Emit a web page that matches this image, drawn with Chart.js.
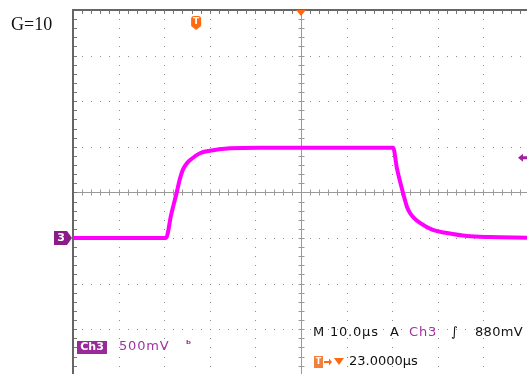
<!DOCTYPE html>
<html>
<head>
<meta charset="utf-8">
<script src="https://cdn.jsdelivr.net/npm/chart.js@4.4.1/dist/chart.umd.min.js"></script>
<style>
  html, body { margin: 0; padding: 0; background: #fff; }
  #wrap { width: 527px; height: 374px; }
</style>
</head>
<body>
<div id="wrap"><canvas id="scope" width="527" height="374"></canvas></div>
<script>
// Ch3 trace: time in µs (10 µs/div), volts (500 mV/div)
const timeUs = [0, 20.4, 21.5, 22.7, 23.4, 24.1, 24.9, 25.7, 27.85, 30, 34.4, 41, 50,
  70.2, 71.05, 72.4, 73.25, 73.9, 74.6, 76.1, 78.9, 82, 86.4, 91.4, 99.6];
const ch3Volts = [0, 0, 0.25, 0.49, 0.64, 0.75, 0.815, 0.855, 0.93, 0.957, 0.983, 0.99, 0.99,
  0.99, 0.76, 0.49, 0.34, 0.275, 0.23, 0.165, 0.088, 0.055, 0.022, 0.01, 0.004];

// screen settings
const gainLabel = "G=10";
const timePerDiv = 10;
const voltsPerDiv = 0.5;
const centerTime = 50;
const centerVolts = 0.5;
const groundVolts = 0;
const triggerTime = 27;
const triggerLevel = 0.88;

// readout texts
const chLabel = "Ch3";
const chScale = "500mV";
const timebase = "M 10.0µs";
const trigSource = "A";
const trigSlope = "∫";
const trigLevelText = "880mV";
const trigPosText = "23.0000µs";

const scopeGrid = {
  id: "scopeGrid",
  beforeDatasetsDraw(chart) {
    const { ctx, chartArea: a, scales: { x, y } } = chart;
    ctx.save();

    // dotted graticule lines, a dot every 1/5 div
    ctx.fillStyle = "#8c8c8c";
    for (let i = 1; i < 10; i++) {
      const t = i * timePerDiv;
      if (t === centerTime) continue;
      const px = Math.round(x.getPixelForValue(t));
      for (let k = 0; k <= 45; k++) {
        const py = Math.round(y.getPixelForValue(y.max - k * voltsPerDiv / 5));
        ctx.fillRect(px, py, 1, 1);
      }
    }
    for (let j = 1; j < 8; j++) {
      const v = y.max - j * voltsPerDiv;
      if (Math.abs(v - centerVolts) < 1e-6) continue;
      const py = Math.round(y.getPixelForValue(v));
      for (let k = 0; k <= 50; k++) {
        const px = Math.round(x.getPixelForValue(k * timePerDiv / 5));
        ctx.fillRect(px, py, 1, 1);
      }
    }

    // center crosshair with minor ticks
    const cx = Math.round(x.getPixelForValue(centerTime)) + 0.5;
    const cy = Math.round(y.getPixelForValue(centerVolts)) + 0.5;
    ctx.strokeStyle = "#9a9a9a";
    ctx.lineWidth = 1;
    ctx.beginPath();
    ctx.moveTo(a.left, cy); ctx.lineTo(a.right, cy);
    ctx.moveTo(cx, a.top); ctx.lineTo(cx, a.bottom);
    for (let k = 0; k <= 50; k++) {
      const px = Math.round(x.getPixelForValue(k * timePerDiv / 5)) + 0.5;
      ctx.moveTo(px, cy - 3); ctx.lineTo(px, cy + 3);
    }
    for (let k = 0; k <= 45; k++) {
      const py = Math.round(y.getPixelForValue(y.max - k * voltsPerDiv / 5)) + 0.5;
      ctx.moveTo(cx - 3, py); ctx.lineTo(cx + 3, py);
    }
    ctx.stroke();

    // frame (top and left edges are visible) with inward ticks
    ctx.strokeStyle = "#777";
    ctx.beginPath();
    for (let k = 1; k <= 50; k++) {
      const px = Math.round(x.getPixelForValue(k * timePerDiv / 5)) + 0.5;
      ctx.moveTo(px, a.top); ctx.lineTo(px, a.top + 4);
    }
    for (let k = 1; k <= 45; k++) {
      const py = Math.round(y.getPixelForValue(y.max - k * voltsPerDiv / 5)) + 0.5;
      ctx.moveTo(a.left, py); ctx.lineTo(a.left + 4, py);
    }
    ctx.stroke();
    ctx.lineWidth = 2;
    ctx.strokeStyle = "#666";
    ctx.beginPath();
    ctx.moveTo(a.left, a.bottom); ctx.lineTo(a.left, a.top); ctx.lineTo(a.right, a.top);
    ctx.stroke();
    ctx.restore();
  }
};

const scopeMarks = {
  id: "scopeMarks",
  afterDatasetsDraw(chart) {
    const { ctx, chartArea: a, scales: { x, y } } = chart;
    ctx.save();
    ctx.textBaseline = "middle";

    // gain label
    ctx.fillStyle = "#111";
    ctx.font = "18px 'Liberation Serif'";
    ctx.textAlign = "left";
    ctx.fillText(gainLabel, 11, 25);

    // horizontal position marker
    const hx = x.getPixelForValue(centerTime);
    ctx.fillStyle = "#ff6a10";
    ctx.beginPath();
    ctx.moveTo(hx - 5, a.top); ctx.lineTo(hx + 5, a.top); ctx.lineTo(hx, a.top + 6);
    ctx.fill();

    // trigger position badge
    const tx = x.getPixelForValue(triggerTime);
    ctx.beginPath();
    ctx.moveTo(tx - 5, 19); ctx.quadraticCurveTo(tx - 5, 16, tx - 2, 16);
    ctx.lineTo(tx + 2, 16); ctx.quadraticCurveTo(tx + 5, 16, tx + 5, 19);
    ctx.lineTo(tx + 5, 26); ctx.lineTo(tx, 30); ctx.lineTo(tx - 5, 26);
    ctx.closePath();
    ctx.fill();
    ctx.fillStyle = "#fff";
    ctx.font = "bold 9px 'DejaVu Sans'";
    ctx.textAlign = "center";
    ctx.fillText("T", tx, 22);

    // ground marker for Ch3
    const gy = y.getPixelForValue(groundVolts);
    ctx.fillStyle = "#8a1c8a";
    ctx.beginPath();
    ctx.moveTo(54, gy - 7); ctx.lineTo(67, gy - 7); ctx.lineTo(72, gy);
    ctx.lineTo(67, gy + 7); ctx.lineTo(54, gy + 7);
    ctx.closePath();
    ctx.fill();
    ctx.fillStyle = "#fff";
    ctx.font = "bold 11px 'DejaVu Sans'";
    ctx.fillText("3", 61, gy + 0.5);

    // trigger level marker
    const ly = y.getPixelForValue(triggerLevel);
    ctx.fillStyle = "#a020a0";
    ctx.beginPath();
    ctx.moveTo(518, ly); ctx.lineTo(523, ly - 4); ctx.lineTo(523, ly - 1.5);
    ctx.lineTo(527, ly - 1.5); ctx.lineTo(527, ly + 1.5); ctx.lineTo(523, ly + 1.5);
    ctx.lineTo(523, ly + 4);
    ctx.closePath();
    ctx.fill();

    // channel readout
    ctx.fillStyle = "#9a2a9a";
    ctx.fillRect(77, 341, 30, 13);
    ctx.fillStyle = "#fff";
    ctx.font = "bold 11px 'DejaVu Sans'";
    ctx.fillText(chLabel, 92, 347.5);
    ctx.textAlign = "left";
    ctx.fillStyle = "#a232a2";
    ctx.font = "13px 'DejaVu Sans'";
    ctx.letterSpacing = "0.8px";
    ctx.fillText(chScale, 119, 347);
    ctx.letterSpacing = "0px";
    ctx.font = "bold 11px 'DejaVu Sans'";
    ctx.fillText("ᵇ", 186, 345);

    // timebase / trigger readout
    ctx.font = "13px 'DejaVu Sans'";
    ctx.letterSpacing = "0.8px";
    ctx.fillStyle = "#111";
    ctx.fillText(timebase, 313, 333);
    ctx.fillText(trigSource, 390, 333);
    ctx.fillStyle = "#a232a2";
    ctx.fillText(chLabel, 409, 333);
    ctx.fillStyle = "#111";
    ctx.font = "italic 13px 'DejaVu Sans'";
    ctx.fillText(trigSlope, 451, 333);
    ctx.font = "13px 'DejaVu Sans'";
    ctx.letterSpacing = "0.3px";
    ctx.fillText(trigLevelText, 475, 333);
    ctx.letterSpacing = "0px";

    // trigger position readout
    ctx.fillStyle = "#f08040";
    ctx.fillRect(314, 356, 9, 12);
    ctx.fillStyle = "#fff";
    ctx.font = "bold 8px 'DejaVu Sans'";
    ctx.textAlign = "center";
    ctx.fillText("T", 318.5, 362);
    ctx.fillStyle = "#ff6a10";
    ctx.fillRect(324, 361, 5, 2);
    ctx.beginPath();
    ctx.moveTo(329, 358.5); ctx.lineTo(332, 362); ctx.lineTo(329, 365.5);
    ctx.fill();
    ctx.beginPath();
    ctx.moveTo(334, 358); ctx.lineTo(344, 358); ctx.lineTo(339, 365);
    ctx.fill();
    ctx.textAlign = "left";
    ctx.fillStyle = "#111";
    ctx.font = "13px 'DejaVu Sans'";
    ctx.fillText(trigPosText, 349, 362);
    ctx.restore();
  }
};

new Chart(document.getElementById("scope"), {
  type: "line",
  data: {
    datasets: [{
      label: chLabel,
      data: timeUs.map((t, i) => ({ x: t, y: ch3Volts[i] })),
      borderColor: "#ff00ff",
      borderWidth: 4,
      pointRadius: 0,
      cubicInterpolationMode: "monotone",
      borderJoinStyle: "round",
      fill: false
    }]
  },
  options: {
    responsive: false,
    animation: false,
    devicePixelRatio: 1,
    layout: { padding: { left: 73, top: 10, right: 0, bottom: 0 } },
    scales: {
      x: { type: "linear", display: false, min: 0, max: 99.56 },
      y: { type: "linear", display: false, min: -1.491, max: 2.5 }
    },
    plugins: { legend: { display: false }, tooltip: { enabled: false } }
  },
  plugins: [scopeGrid, scopeMarks]
});
</script>
</body>
</html>
